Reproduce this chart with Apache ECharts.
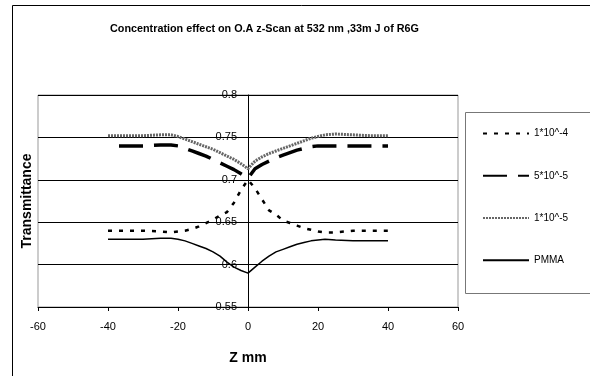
<!DOCTYPE html>
<html>
<head>
<meta charset="utf-8">
<script src="https://cdn.jsdelivr.net/npm/echarts@6/dist/echarts.min.js"></script>
<style>
  html, body { margin: 0; padding: 0; background: #fff; }
  #chart { width: 590px; height: 376px; }
</style>
</head>
<body>
<div id="chart"></div>
<script>
// z positions (mm)
const zValues = [-40, -35, -30, -25, -22, -20, -18, -16, -14, -12, -10, -8, -6, -4, -2, 0,
  2, 4, 6, 8, 10, 12, 14, 16, 18, 20, 22, 25, 30, 35, 40]

const seriesNames = ['1*10^-4', '5*10^-5', '1*10^-5', 'PMMA']

const conc1e4 = [0.640, 0.640, 0.640, 0.639, 0.638, 0.639, 0.640, 0.642, 0.645, 0.649, 0.653, 0.658, 0.662, 0.673, 0.688, 0.700,
  0.690, 0.677, 0.664, 0.659, 0.652, 0.649, 0.646, 0.643, 0.641, 0.639, 0.638, 0.638, 0.640, 0.640, 0.640]

const conc5e5 = [0.740, 0.740, 0.740, 0.741, 0.741, 0.740, 0.737, 0.734, 0.731, 0.728, 0.724, 0.720, 0.716, 0.712, 0.707, 0.702,
  0.713, 0.718, 0.722, 0.726, 0.729, 0.732, 0.735, 0.737, 0.739, 0.740, 0.740, 0.740, 0.740, 0.740, 0.740]

const conc1e5 = [0.752, 0.752, 0.752, 0.753, 0.753, 0.751, 0.748, 0.745, 0.742, 0.739, 0.736, 0.732, 0.728, 0.724, 0.719, 0.713,
  0.722, 0.727, 0.731, 0.734, 0.737, 0.740, 0.743, 0.746, 0.749, 0.751, 0.753, 0.754, 0.753, 0.752, 0.752]

const pmma = [0.630, 0.630, 0.630, 0.631, 0.631, 0.630, 0.628, 0.625, 0.622, 0.619, 0.615, 0.610, 0.603, 0.597, 0.593, 0.590,
  0.597, 0.604, 0.610, 0.615, 0.618, 0.621, 0.624, 0.626, 0.628, 0.629, 0.630, 0.629, 0.628, 0.628, 0.628]

const chart = echarts.init(document.getElementById('chart'))

// 把z和数值拼成点
const toPoints = (vals) => zValues.map((z, i) => [z, vals[i]])

const font = 'Arial, "Liberation Sans", sans-serif'

const option = {
  backgroundColor: '#fff',
  animation: false,
  title: {
    text: 'Concentration effect on O.A z-Scan at 532 nm ,33m J of R6G',
    left: 105,
    top: 19,
    textStyle: { fontFamily: font, fontSize: 10.8, fontWeight: 'bold', color: '#000' }
  },
  graphic: [
    // 外框
    { type: 'rect', shape: { x: 12.5, y: 5.5, width: 600, height: 400 }, style: { fill: null, stroke: '#000', lineWidth: 1 }, z: -1 },
    // 图例框
    { type: 'rect', shape: { x: 465.5, y: 112.5, width: 140, height: 181 }, style: { fill: null, stroke: '#777', lineWidth: 1 } }
  ],
  legend: {
    orient: 'vertical',
    left: 482,
    top: 128,
    padding: 0,
    itemWidth: 46,
    itemHeight: 14,
    itemGap: 31,
    itemStyle: { opacity: 0 },
    textStyle: { fontFamily: font, fontSize: 10, color: '#000' },
    data: [
      { name: seriesNames[0] },
      { name: seriesNames[1], lineStyle: { dashOffset: 0, type: [24, 11] } },
      { name: seriesNames[2] },
      { name: seriesNames[3] }
    ]
  },
  grid: {
    left: 38,
    top: 95,
    right: 132,
    bottom: 69,
    outerBoundsMode: 'none',
    containLabel: false,
    show: true,
    borderColor: '#999',
    borderWidth: 1,
    backgroundColor: '#fff'
  },
  xAxis: {
    type: 'value',
    min: -60,
    max: 60,
    interval: 20,
    name: 'Z mm',
    nameLocation: 'middle',
    nameGap: 44,
    nameTextStyle: { fontFamily: font, fontSize: 14, fontWeight: 'bold', color: '#000' },
    axisLine: { onZero: false, lineStyle: { color: '#000', width: 1 } },
    axisTick: { show: true, length: 4, lineStyle: { color: '#000' } },
    axisLabel: { fontFamily: font, fontSize: 11, color: '#000', margin: 14 },
    splitLine: { show: false }
  },
  yAxis: {
    type: 'value',
    min: 0.55,
    max: 0.8,
    interval: 0.05,
    // 纵轴画在 z=0 处
    offset: -210,
    name: 'Transmittance',
    nameLocation: 'middle',
    nameGap: 214,
    nameTextStyle: { fontFamily: font, fontSize: 14, fontWeight: 'bold', color: '#000' },
    axisLine: { onZero: false, lineStyle: { color: '#000', width: 1 } },
    axisTick: { show: true, length: 3, lineStyle: { color: '#000' } },
    axisLabel: { fontFamily: font, fontSize: 11, color: '#000', margin: 11 },
    splitLine: { show: true, lineStyle: { color: '#000', width: 1 } }
  },
  series: [
    {
      name: seriesNames[0],
      type: 'line',
      symbol: 'none',
      data: toPoints(conc1e4),
      itemStyle: { color: '#000' },
      lineStyle: { color: '#000', width: 2.5, type: [4, 7] }
    },
    {
      name: seriesNames[1],
      type: 'line',
      symbol: 'none',
      data: toPoints(conc5e5),
      itemStyle: { color: '#000' },
      lineStyle: { color: '#000', width: 3.5, type: [24, 11], dashOffset: 24 }
    },
    {
      name: seriesNames[2],
      type: 'line',
      symbol: 'none',
      data: toPoints(conc1e5),
      itemStyle: { color: '#666' },
      lineStyle: { color: '#666', width: 3, type: [2, 1] }
    },
    {
      name: seriesNames[3],
      type: 'line',
      symbol: 'none',
      data: toPoints(pmma),
      itemStyle: { color: '#000' },
      lineStyle: { color: '#000', width: 1.5, type: 'solid' }
    }
  ]
}

chart.setOption(option)
</script>
</body>
</html>
